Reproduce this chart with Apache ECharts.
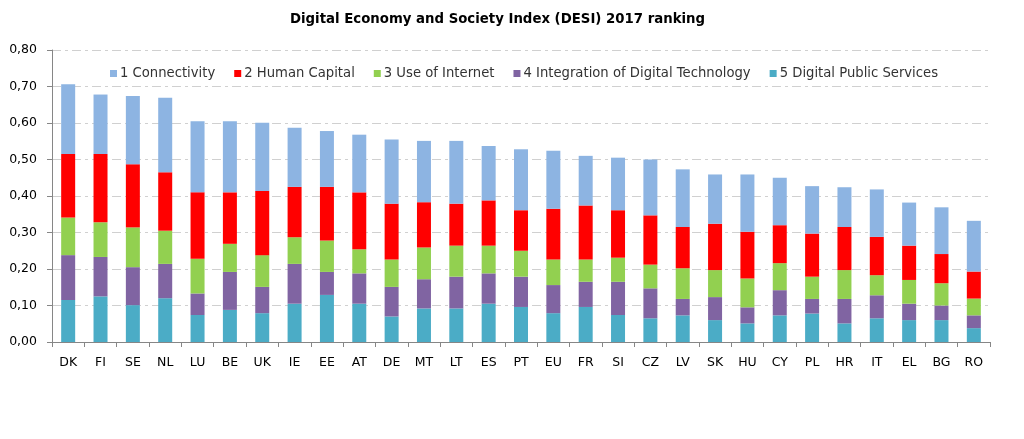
<!DOCTYPE html>
<html><head><meta charset="utf-8">
<script src="https://cdn.jsdelivr.net/npm/echarts@6/dist/echarts.min.js"></script>
<style>html,body{margin:0;padding:0;background:#fff}#c{width:1024px;height:439px}</style>
</head><body><div id="c"></div>
<script>
const categories = ['DK','FI','SE','NL','LU','BE','UK','IE','EE','AT','DE','MT','LT','ES','PT','EU','FR','SI','CZ','LV','SK','HU','CY','PL','HR','IT','EL','BG','RO'];
const digitalPublicServices = [.115,.125,.101,.120,.074,.088,.079,.105,.129,.105,.070,.092,.092,.105,.096,.079,.096,.074,.065,.073,.060,.051,.073,.078,.051,.065,.060,.060,.038];
const integrationDigitalTech = [.123,.108,.104,.094,.059,.104,.072,.109,.063,.083,.081,.080,.087,.083,.083,.077,.069,.091,.082,.045,.063,.044,.069,.040,.067,.063,.045,.040,.035];
const useOfInternet = [.103,.095,.109,.091,.095,.077,.087,.073,.086,.066,.075,.087,.085,.076,.071,.070,.061,.066,.065,.084,.074,.079,.074,.061,.079,.055,.065,.061,.046];
const humanCapital = [.174,.187,.173,.160,.182,.141,.176,.138,.147,.156,.153,.124,.115,.124,.111,.139,.148,.130,.135,.113,.127,.128,.104,.118,.118,.105,.094,.080,.074];
const connectivity = [.191,.163,.187,.204,.195,.195,.187,.162,.153,.158,.176,.168,.172,.149,.167,.159,.136,.144,.153,.158,.135,.157,.130,.130,.109,.130,.118,.128,.139];
const yTicks = [0,0.1,0.2,0.3,0.4,0.5,0.6,0.7,0.8];

const font = 'DejaVu Sans';
function s(name, data, color){
  return {name, type:'bar', stack:'t', data, barWidth:14, itemStyle:{color}, emphasis:{disabled:true}};
}
const chart = echarts.init(document.getElementById('c'));
chart.setOption({
  animation:false,
  title:{text:'Digital Economy and Society Index (DESI) 2017 ranking', left:285, top:8,
    textStyle:{fontFamily:font, fontSize:13.3, fontWeight:'bold', color:'#000'}},
  legend:{top:62, left:105, itemWidth:7, itemHeight:7, itemGap:19, icon:'rect',
    data:['1 Connectivity','2 Human Capital','3 Use of Internet','4 Integration of Digital Technology','5 Digital Public Services'],
    textStyle:{fontFamily:font, fontSize:13.2, color:'#333', padding:[0,0,0,-2]}},
  grid:{left:52, right:34, top:50, bottom:97},
  xAxis:{type:'category', data:categories,
    axisLine:{lineStyle:{color:'#868686'}},
    axisTick:{show:true, alignWithLabel:false, length:5, lineStyle:{color:'#868686'}},
    axisLabel:{fontFamily:font, fontSize:12.5, color:'#000', margin:14}},
  yAxis:{type:'value', min:0, max:0.8, interval:0.1,
    axisLine:{show:true, lineStyle:{color:'#868686'}},
    axisTick:{show:true, length:5, lineStyle:{color:'#868686'}},
    axisLabel:{fontFamily:font, fontSize:12.5, color:'#000', margin:15,
      formatter:v=>{const t=yTicks.find(x=>Math.abs(x-v)<1e-9); return (t!==undefined?t:v).toFixed(2).replace('.',',');}},
    splitLine:{lineStyle:{color:'#D0D0D0', type:[9,4,3,4]}}},
  series:[
    s('5 Digital Public Services', digitalPublicServices, '#4BACC6'),
    s('4 Integration of Digital Technology', integrationDigitalTech, '#8064A2'),
    s('3 Use of Internet', useOfInternet, '#92D050'),
    s('2 Human Capital', humanCapital, '#FF0000'),
    s('1 Connectivity', connectivity, '#8DB4E2')
  ]
});
</script></body></html>
